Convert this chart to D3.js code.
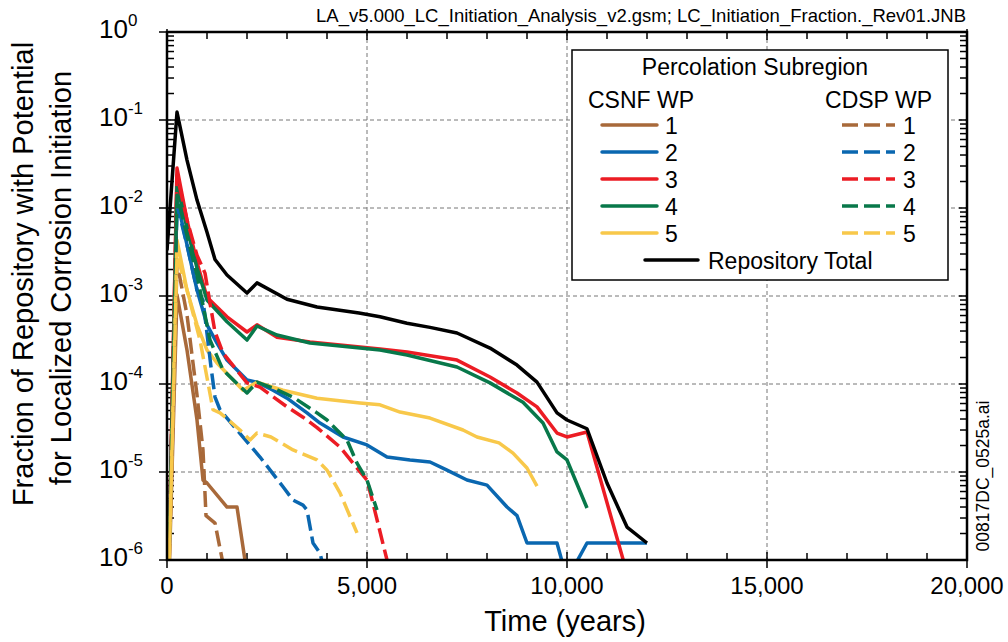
<!DOCTYPE html>
<html><head><meta charset="utf-8">
<script src="https://cdn.jsdelivr.net/npm/d3@7"></script>
<style>body{margin:0;background:#fff} svg{display:block;font-family:Arial,"Liberation Sans",sans-serif}</style>
</head><body><svg id="c" width="1008" height="642"></svg>
<script>
// ---------- data ----------
const xMajorTicks = [0, 5000, 10000, 15000, 20000];
const xTickLabels = ["0", "5,000", "10,000", "15,000", "20,000"];
const yExponents = [0, -1, -2, -3, -4, -5, -6];
const subregionLabels = ["1", "2", "3", "4", "5"];
const headerText = "LA_v5.000_LC_Initiation_Analysis_v2.gsm; LC_Initiation_Fraction._Rev01.JNB";
const sideText = "00817DC_0525a.ai";

// CSNF WP (solid)
const csnf1 = [[0,1e-7],[250,1.03e-3],[500,2.43e-4],[750,3.9e-5],[900,8.1e-6],[1000,7.5e-6],[1500,4.0e-6],[1750,4.0e-6],[2000,7e-7]];
const csnf2 = [[0,1e-7],[250,1.23e-2],[500,3.8e-3],[750,1.17e-3],[1000,4.7e-4],[1250,2.92e-4],[1500,1.87e-4],[2000,1.11e-4],[2250,1.05e-4],[2650,8.5e-5],[3000,6.9e-5],[3500,4.7e-5],[3825,3.6e-5],[4400,2.5e-5],[5000,2.03e-5],[5500,1.48e-5],[6075,1.37e-5],[6575,1.3e-5],[7000,1.05e-5],[7500,8.1e-6],[8000,7.1e-6],[8500,4.0e-6],[8750,3.2e-6],[9000,1.56e-6],[9750,1.56e-6],[10000,6e-7],[10500,1.56e-6],[12000,1.56e-6]];
const csnf3 = [[0,1e-7],[250,2.85e-2],[500,7.3e-3],[750,2.4e-3],[1000,9.7e-4],[1500,5.8e-4],[2000,3.9e-4],[2250,4.7e-4],[2750,3.4e-4],[3575,3.0e-4],[4825,2.63e-4],[5325,2.5e-4],[6000,2.31e-4],[7250,1.87e-4],[8075,1.2e-4],[8750,7.9e-5],[9250,5.5e-5],[9750,2.77e-5],[10000,2.5e-5],[10500,2.85e-5],[11450,8.5e-7]];
const csnf4 = [[0,1e-7],[250,1.82e-2],[500,5.9e-3],[750,2.08e-3],[1000,9.0e-4],[1500,5.1e-4],[2000,3.16e-4],[2250,4.56e-4],[2750,3.6e-4],[3575,2.92e-4],[4825,2.56e-4],[5325,2.43e-4],[6000,2.14e-4],[7250,1.56e-4],[8075,1.03e-4],[8900,6.2e-5],[9400,3.6e-5],[9750,1.69e-5],[10000,1.37e-5],[10500,3.9e-6]];
const csnf5 = [[0,1e-7],[250,4.3e-3],[500,1.17e-3],[750,4.7e-4],[1000,2.43e-4],[1250,1.73e-4],[1900,8.5e-5],[2250,1.05e-4],[2900,8.5e-5],[3750,6.9e-5],[4825,6.1e-5],[5325,5.8e-5],[5825,4.8e-5],[6575,4.1e-5],[7400,3.0e-5],[7750,2.5e-5],[8300,2.14e-5],[8650,1.64e-5],[9000,1.11e-5],[9250,6.9e-6]];

// CDSP WP (dashed)
const cdsp1 = [[0,1e-7],[250,2.4e-3],[500,6.1e-4],[750,7.5e-5],[900,1.78e-5],[975,3.2e-6],[1200,2.63e-6],[1450,7e-7]];
const cdsp2 = [[0,1e-7],[250,1.08e-2],[500,3.8e-3],[750,1.17e-3],[900,9.0e-4],[1100,1.56e-4],[1200,7.1e-5],[1325,5.1e-5],[1750,3.0e-5],[2325,1.48e-5],[2900,6.8e-6],[3150,4.8e-6],[3400,4.2e-6],[3500,3.7e-6],[3650,1.56e-6],[3825,1.2e-6],[3900,8.7e-7]];
const cdsp3 = [[0,1e-7],[250,2.37e-2],[500,7.3e-3],[750,2.9e-3],[950,1.82e-3],[1075,8.3e-4],[1200,3.9e-4],[1400,2.25e-4],[2000,1.03e-4],[2325,9.2e-5],[3000,5.5e-5],[3400,4.2e-5],[3750,3.2e-5],[4325,1.92e-5],[4650,1.26e-5],[5000,8.1e-6],[5150,4.4e-6],[5500,1.0e-6],[5550,8e-7]];
const cdsp4 = [[0,1e-7],[250,1.4e-2],[500,4.9e-3],[750,1.73e-3],[1075,3.16e-4],[1400,1.44e-4],[2000,7.9e-5],[2250,1.05e-4],[2650,9.0e-5],[3150,7.1e-5],[3750,4.7e-5],[4000,3.9e-5],[4500,2.31e-5],[4750,1.26e-5],[5000,8.1e-6],[5250,3.7e-6]];
const cdsp5 = [[0,1e-7],[250,2.9e-3],[500,1.17e-3],[825,3.16e-4],[1150,5.1e-5],[1325,4.7e-5],[1825,3.0e-5],[2075,2.31e-5],[2250,2.77e-5],[2600,2.5e-5],[3150,1.78e-5],[3750,1.37e-5],[4000,1.05e-5],[4325,5.8e-6],[4750,2.03e-6]];

// Repository total
const repoTotal = [[0,3.3e-3],[250,0.123],[500,0.035],[750,0.0123],[1000,5.3e-3],[1200,2.6e-3],[1500,1.73e-3],[2000,1.08e-3],[2250,1.41e-3],[3000,9.2e-4],[3750,7.5e-4],[4800,6.4e-4],[5325,5.8e-4],[6000,4.9e-4],[6575,4.4e-4],[7250,3.8e-4],[8075,2.56e-4],[8750,1.64e-4],[9250,1.05e-4],[9750,4.7e-5],[10000,3.9e-5],[10500,3.1e-5],[11000,7.5e-6],[11500,2.37e-6],[12000,1.56e-6]];

// ---------- styles ----------
const seriesColors = ["#A8693A", "#0A67B0", "#EC1C24", "#08784A", "#F8C84A"];
const csnfSeries = [csnf1, csnf2, csnf3, csnf4, csnf5];
const cdspSeries = [cdsp1, cdsp2, cdsp3, cdsp4, cdsp5];

const svg = d3.select("#c");
const L = 167, R = 967, T = 32, B = 560;
const x = d3.scaleLinear().domain([0, 20000]).range([L, R]);
const y = d3.scaleLog().domain([1e-6, 1]).range([B, T]);

// header
svg.append("text").attr("x", 966).attr("y", 22).attr("text-anchor", "end")
  .attr("font-size", 18.5).text(headerText);

// grid
const gridColor = "#777";
svg.append("g").selectAll("line").data(xMajorTicks.slice(1, -1)).join("line")
  .attr("x1", d => x(d)).attr("x2", d => x(d)).attr("y1", T).attr("y2", B)
  .attr("stroke", gridColor).attr("stroke-width", 1).attr("stroke-dasharray", "4,3");
svg.append("g").selectAll("line").data(yExponents.slice(1, -1)).join("line")
  .attr("x1", L).attr("x2", R).attr("y1", d => y(Math.pow(10, d))).attr("y2", d => y(Math.pow(10, d)))
  .attr("stroke", gridColor).attr("stroke-width", 1).attr("stroke-dasharray", "4,3");

// ticks
const minorX = d3.range(0, 20001, 1000).filter(v => v % 5000 !== 0);
const minorY = [];
for (let e = -6; e < 0; e++) for (let k = 2; k <= 9; k++) minorY.push(k * Math.pow(10, e));
const tk = svg.append("g").attr("stroke", "#000").attr("stroke-width", 1.5);
minorX.forEach(v => {
  tk.append("line").attr("x1", x(v)).attr("x2", x(v)).attr("y1", B).attr("y2", B - 7);
  tk.append("line").attr("x1", x(v)).attr("x2", x(v)).attr("y1", T).attr("y2", T + 7);
});
xMajorTicks.forEach(v => {
  tk.append("line").attr("x1", x(v)).attr("x2", x(v)).attr("y1", B - 8).attr("y2", B + 8);
  tk.append("line").attr("x1", x(v)).attr("x2", x(v)).attr("y1", T - 3).attr("y2", T + 8);
});
minorY.forEach(v => {
  tk.append("line").attr("x1", L).attr("x2", L + 7).attr("y1", y(v)).attr("y2", y(v));
  tk.append("line").attr("x1", R).attr("x2", R - 7).attr("y1", y(v)).attr("y2", y(v));
});
yExponents.forEach(e => {
  const v = Math.pow(10, e);
  tk.append("line").attr("x1", L - 8).attr("x2", L + 8).attr("y1", y(v)).attr("y2", y(v));
  tk.append("line").attr("x1", R - 8).attr("x2", R).attr("y1", y(v)).attr("y2", y(v));
});

// series
svg.append("defs").append("clipPath").attr("id", "clip")
  .append("rect").attr("x", L).attr("y", T).attr("width", R - L).attr("height", B - T);
const line = d3.line().x(d => x(d[0])).y(d => y(d[1]));
const plot = svg.append("g").attr("clip-path", "url(#clip)");
csnfSeries.forEach((s, i) => plot.append("path").datum(s).attr("d", line)
  .attr("fill", "none").attr("stroke", seriesColors[i]).attr("stroke-width", 3.5).attr("stroke-linejoin", "round"));
cdspSeries.forEach((s, i) => plot.append("path").datum(s).attr("d", line)
  .attr("fill", "none").attr("stroke", seriesColors[i]).attr("stroke-width", 3.5)
  .attr("stroke-dasharray", "16,6").attr("stroke-linejoin", "round"));
plot.append("path").datum(repoTotal).attr("d", line)
  .attr("fill", "none").attr("stroke", "#000").attr("stroke-width", 3.5).attr("stroke-linejoin", "round");

// frame
svg.append("rect").attr("x", L).attr("y", T).attr("width", R - L).attr("height", B - T)
  .attr("fill", "none").attr("stroke", "#000").attr("stroke-width", 2.5);

// x tick labels
svg.append("g").selectAll("text").data(xMajorTicks).join("text")
  .attr("x", d => x(d)).attr("y", 594).attr("text-anchor", "middle").attr("font-size", 24)
  .text((d, i) => xTickLabels[i]);

// y tick labels
const yl = svg.append("g");
yExponents.forEach(e => {
  const t = yl.append("text").attr("x", 99).attr("y", y(Math.pow(10, e)) + 6)
    .attr("text-anchor", "start").attr("font-size", 26);
  t.append("tspan").text("10");
  t.append("tspan").attr("font-size", 17).attr("dy", -12).text(String(e));
});

// axis titles
svg.append("text").attr("x", 565).attr("y", 631).attr("text-anchor", "middle")
  .attr("font-size", 29).text("Time (years)");
svg.append("text").attr("transform", "translate(33,274) rotate(-90)").attr("text-anchor", "middle")
  .attr("font-size", 29).text("Fraction of Repository with Potential");
svg.append("text").attr("transform", "translate(71,278) rotate(-90)").attr("text-anchor", "middle")
  .attr("font-size", 29).text("for Localized Corrosion Initiation");
svg.append("text").attr("transform", "translate(989,476) rotate(-90)").attr("text-anchor", "middle")
  .attr("font-size", 17.5).text(sideText);

// legend
const lg = svg.append("g");
lg.append("rect").attr("x", 572).attr("y", 50).attr("width", 376).attr("height", 230)
  .attr("fill", "#fff").attr("stroke", "#000").attr("stroke-width", 1.5);
lg.append("text").attr("x", 755).attr("y", 75).attr("text-anchor", "middle").attr("font-size", 23).text("Percolation Subregion");
lg.append("text").attr("x", 588).attr("y", 108).attr("font-size", 23).text("CSNF WP");
lg.append("text").attr("x", 932).attr("y", 108).attr("text-anchor", "end").attr("font-size", 23).text("CDSP WP");
subregionLabels.forEach((lab, i) => {
  const yy = 125 + i * 27;
  lg.append("line").attr("x1", 602).attr("x2", 657).attr("y1", yy).attr("y2", yy)
    .attr("stroke", seriesColors[i]).attr("stroke-width", 3.5).attr("stroke-linecap", "round");
  lg.append("text").attr("x", 665).attr("y", yy + 8.5).attr("font-size", 23).text(lab);
  lg.append("line").attr("x1", 842).attr("x2", 895).attr("y1", yy).attr("y2", yy)
    .attr("stroke", seriesColors[i]).attr("stroke-width", 3.5).attr("stroke-dasharray", "16,6").attr("stroke-linecap", "butt");
  lg.append("text").attr("x", 903).attr("y", yy + 8.5).attr("font-size", 23).text(lab);
});
lg.append("line").attr("x1", 645).attr("x2", 698).attr("y1", 260).attr("y2", 260)
  .attr("stroke", "#000").attr("stroke-width", 3.5).attr("stroke-linecap", "round");
lg.append("text").attr("x", 708).attr("y", 268.5).attr("font-size", 23).text("Repository Total");
</script></body></html>
